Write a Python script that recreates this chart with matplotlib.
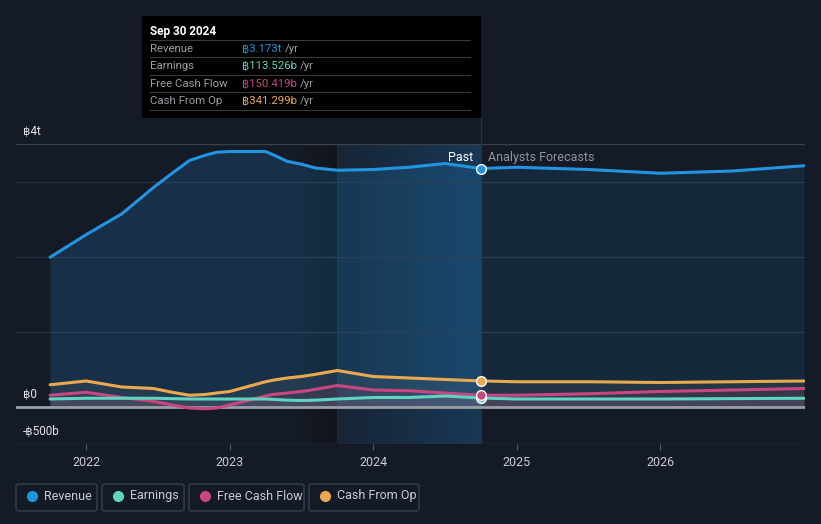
import numpy as np
import matplotlib
matplotlib.use("Agg")
import matplotlib.pyplot as plt
from matplotlib.patches import Rectangle, FancyBboxPatch
from matplotlib.lines import Line2D

plt.rcParams['font.family'] = ['Roboto', 'DejaVu Sans']

# === data (trillions of baht) ===
years = [2021.75, 2022.0, 2022.25, 2022.47, 2022.6, 2022.72, 2022.83, 2022.91,
         2023.0, 2023.25, 2023.3, 2023.4, 2023.5, 2023.6,
         2023.75, 2024.0, 2024.25, 2024.5, 2024.75,
         2025.0, 2025.5, 2026.0, 2026.5, 2027.0]
revenue = [1.99, 2.29, 2.57, 2.92, 3.11, 3.28, 3.35, 3.39,
           3.40, 3.40, 3.36, 3.27, 3.23, 3.18,
           3.15, 3.16, 3.19, 3.24, 3.173,
           3.19, 3.16, 3.11, 3.14, 3.21]
earnings = [0.10, 0.11, 0.11, 0.11, 0.105, 0.10, 0.10, 0.10,
            0.10, 0.10, 0.095, 0.085, 0.08, 0.085,
            0.10, 0.12, 0.12, 0.14, 0.1135,
            0.10, 0.10, 0.10, 0.105, 0.11]
fcf = [0.15, 0.19, 0.12, 0.07, 0.02, -0.02, -0.03, -0.02,
       0.02, 0.14, 0.16, 0.18, 0.20, 0.23,
       0.28, 0.22, 0.21, 0.18, 0.150,
       0.15, 0.17, 0.20, 0.22, 0.24]
cfo = [0.29, 0.34, 0.26, 0.24, 0.19, 0.15, 0.16, 0.18,
       0.20, 0.33, 0.35, 0.38, 0.40, 0.43,
       0.48, 0.40, 0.38, 0.36, 0.341,
       0.33, 0.33, 0.32, 0.33, 0.34]

now = 2024.75
tick_years = [2022, 2023, 2024, 2025, 2026]
ytick_vals = [3.5, 0, -0.5]
ytick_labels = ["฿4t", "฿0", "-฿500b"]

tooltip_title = "Sep 30 2024"
tooltip_rows = [("Revenue", "฿3.173t", "#2394df"),
                ("Earnings", "฿113.526b", "#5fd4c0"),
                ("Free Cash Flow", "฿150.419b", "#c8477f"),
                ("Cash From Op", "฿341.299b", "#e9a951")]

BG = "#151b26"
C_REV, C_EARN, C_FCF, C_CFO = "#2394df", "#5fd4c0", "#c8477f", "#e9a951"

W, H = 821, 524
fig = plt.figure(figsize=(W / 100, H / 100), dpi=100, facecolor=BG)


def fx(x):
    return x / W


def fy(y):
    return 1 - y / H


ax = fig.add_axes([fx(16), fy(444), fx(805) - fx(16), fy(144) - fy(444)])
ax.set_facecolor(BG)
ax.set_xlim(2021.5125, 2027.007)
ax.set_ylim(-0.5, 3.5)
for s in ax.spines.values():
    s.set_visible(False)

x = np.array(years)
rev = np.array(revenue)
past = x <= now

# past-year highlight gradient
grad = np.linspace(0, 1, 200).reshape(1, -1)
rgba = np.zeros((1, 200, 4))
rgba[..., 0], rgba[..., 1], rgba[..., 2] = 0.12, 0.36, 0.56
rgba[..., 3] = 0.15 + 0.30 * grad
ax.imshow(rgba, extent=[2023.75, now, -0.5, 3.5], aspect="auto", zorder=1)
dark = np.zeros((1, 200, 4))
dark[..., 3] = 0.25 * grad
ax.imshow(dark, extent=[2023.45, 2023.75, -0.5, 3.5], aspect="auto", zorder=1)
ax.axvline(2023.75, color="#1a2e44", lw=0.6, zorder=1)

# grid lines
for g in [1, 2, 3]:
    ax.axhline(g, color="#28313d", lw=1, zorder=2)
ax.axhline(3.5, color="#3a414b", lw=1, zorder=2)
ax.axhline(-0.5, color="#3a414b", lw=1, zorder=2)

# revenue fill
ax.fill_between(x[past], rev[past], 0, color=C_REV, alpha=0.18, lw=0, zorder=2)
fut = x >= now
ax.fill_between(x[fut], rev[fut], 0, color=C_REV, alpha=0.12, lw=0, zorder=2)

# small series fills
for vals, c in [(cfo, "#8a8f96"), (fcf, C_FCF), (earnings, "#a0a5ab")]:
    ax.fill_between(x, vals, 0, color=c, alpha=0.12, lw=0, zorder=3)

ax.axhline(0, color="#9a9ea4", lw=2, zorder=4)

for vals, c in [(revenue, C_REV), (cfo, C_CFO), (fcf, C_FCF), (earnings, C_EARN)]:
    ax.plot(x, vals, color=c, lw=2.2, zorder=5, solid_capstyle="round",
            solid_joinstyle="round")

# markers at now
idx = years.index(now)
for vals, c in [(earnings, C_EARN), (fcf, C_FCF), (cfo, C_CFO), (revenue, C_REV)]:
    ax.plot(now, vals[idx], "o", ms=7, mfc=c, mec="white", mew=1, zorder=6)

ax.axvline(now, color="#1f3347", lw=1, zorder=1)
fig.add_artist(Line2D([fx(481), fx(481)], [fy(118), fy(144)], color="#1f3347", lw=1))

ax.text(now - 0.05, 3.32, "Past", color="white", fontsize=9, ha="right", va="center", zorder=7)
ax.text(now + 0.05, 3.32, "Analysts Forecasts", color="#8f959c", fontsize=9,
        ha="left", va="center", zorder=7)

# ticks
ax.set_xticks(tick_years)
ax.set_xticklabels([str(t) for t in tick_years], color="#c8ccd2", fontsize=9)
ax.tick_params(axis="x", length=4, color="#555b63", pad=5)
ax.set_yticks([])
for v, lab in zip(ytick_vals, ytick_labels):
    ax.text(0.009, v + 0.08, lab, transform=ax.get_yaxis_transform(),
            color="#e0e3e6", fontsize=8.5, ha="left", va="bottom")

# tooltip
fig.add_artist(Rectangle((fx(142), fy(118)), fx(481) - fx(142), fy(16) - fy(118),
                         facecolor="black", edgecolor="none", zorder=10))
fig.text(fx(150), fy(31), tooltip_title, color="white", fontsize=8.5,
         fontweight="bold", va="center", zorder=11)
row_y = [49, 66, 84, 101]
for (name, val, c), yy in zip(tooltip_rows, row_y):
    fig.add_artist(Line2D([fx(150), fx(470)], [fy(yy - 9), fy(yy - 9)],
                          color="#3a3a3a", lw=0.8, zorder=11))
    fig.text(fx(150), fy(yy), name, color="#9a9ea4", fontsize=8.2, va="center", zorder=11)
    t = fig.text(fx(242), fy(yy), val, color=c, fontsize=8.2, va="center", zorder=11)
    fig.canvas.draw()
    bb = t.get_window_extent()
    fig.text(bb.x1 / W + fx(3), fy(yy), "/yr", color="#9a9ea4", fontsize=8.2,
             va="center", zorder=11)
fig.add_artist(Line2D([fx(150), fx(470)], [fy(110), fy(110)], color="#3a3a3a", lw=0.8, zorder=11))

# legend
legend_items = [("Revenue", C_REV, 16, 97), ("Earnings", C_EARN, 102, 184),
                ("Free Cash Flow", C_FCF, 189, 304), ("Cash From Op", C_CFO, 309, 419)]
for name, c, x0, x1 in legend_items:
    fig.add_artist(FancyBboxPatch((fx(x0), fy(511)), fx(x1) - fx(x0), fy(484) - fy(511),
                                  boxstyle="round,pad=0,rounding_size=0.004",
                                  facecolor="none", edgecolor="#3a3f48", lw=1))
    fig.add_artist(Line2D([fx(x0 + 16)], [fy(496)], marker="o", ms=7, color=c, lw=0))
    fig.text(fx(x0 + 28), fy(496), name, color="#c8ccd2", fontsize=9, va="center")

fig.savefig("out.png", dpi=100, facecolor=BG)
